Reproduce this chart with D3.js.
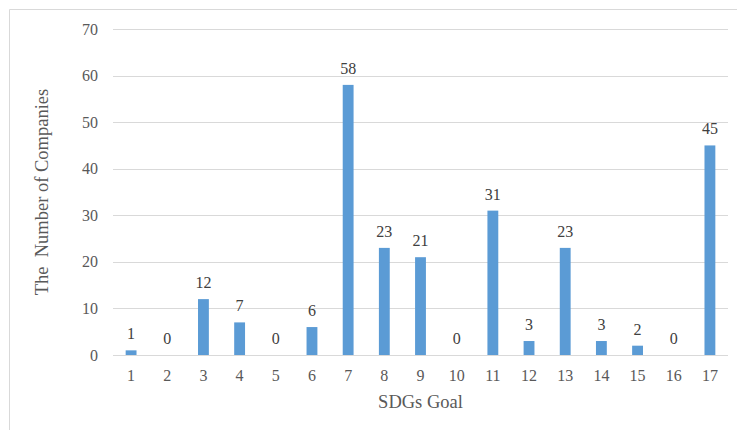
<!DOCTYPE html>
<html><head><meta charset="utf-8">
<script src="https://cdn.jsdelivr.net/npm/d3@7/dist/d3.min.js"></script>
<style>body{margin:0;background:#fff}svg{display:block}</style>
</head><body>
<svg id="c" width="737" height="430"></svg>
<script>
const categories = ["1","2","3","4","5","6","7","8","9","10","11","12","13","14","15","16","17"];
const values = [1,0,12,7,0,6,58,23,21,0,31,3,23,3,2,0,45];
const yTicks = [0,10,20,30,40,50,60,70];
const xTitle = "SDGs Goal";
const yTitle = "The  Number of Companies";

const svg = d3.select("#c");
const m = {left:113, right:728, top:29, bottom:355};
const font = "'Liberation Serif','Times New Roman',serif";
const grey = "#595959";

// chart border
svg.append("path").attr("d","M9.5,430 V9.5 H737").attr("fill","none").attr("stroke","#d9d9d9").attr("stroke-width",1);

const x = d3.scaleBand().domain(categories).range([m.left,m.right]).paddingInner(0.7).paddingOuter(0.35);
const y = d3.scaleLinear().domain([0,70]).range([m.bottom,m.top]);

// grid
svg.append("g").selectAll("line").data(yTicks.filter(d=>d>0)).join("line")
  .attr("x1",m.left).attr("x2",m.right)
  .attr("y1",d=>Math.round(y(d))+0.5).attr("y2",d=>Math.round(y(d))+0.5)
  .attr("stroke","#d9d9d9").attr("stroke-width",1);

// y axis labels
const ya = svg.append("g").attr("transform",`translate(${m.left},0)`)
  .call(d3.axisLeft(y).tickValues(yTicks).tickSize(0).tickPadding(15));
ya.select(".domain").remove();
ya.selectAll("text").attr("font-family",font).attr("font-size",16).attr("fill",grey);

// bars
svg.append("g").selectAll("rect").data(values).join("rect")
  .attr("x",(d,i)=>x(categories[i])).attr("width",x.bandwidth())
  .attr("y",d=>y(d)).attr("height",d=>y(0)-y(d))
  .attr("fill","#5b9bd5");

// x axis
const xa = svg.append("g").attr("transform",`translate(0,${Math.round(y(0))+0.5})`)
  .call(d3.axisBottom(x).tickSize(0).tickPadding(14));
xa.select(".domain").attr("stroke","#d9d9d9").attr("d",`M${m.left},0H${m.right}`);
xa.selectAll("text").attr("font-family",font).attr("font-size",16).attr("fill",grey);

// value labels
svg.append("g").selectAll("text").data(values).join("text")
  .attr("x",(d,i)=>x(categories[i])+x.bandwidth()/2)
  .attr("y",d=>y(d)-11)
  .attr("text-anchor","middle")
  .attr("font-family",font).attr("font-size",16).attr("fill","#404040")
  .text(d=>d);

// titles
svg.append("text").attr("x",(m.left+m.right)/2).attr("y",408)
  .attr("text-anchor","middle").attr("font-family",font).attr("font-size",18.5).attr("fill",grey)
  .text(xTitle);
svg.append("text").attr("transform","translate(48,192) rotate(-90)")
  .attr("text-anchor","middle").attr("font-family",font).attr("font-size",18.5).attr("fill",grey)
  .attr("xml:space","preserve").style("white-space","pre")
  .text(yTitle);
</script>
</body></html>
